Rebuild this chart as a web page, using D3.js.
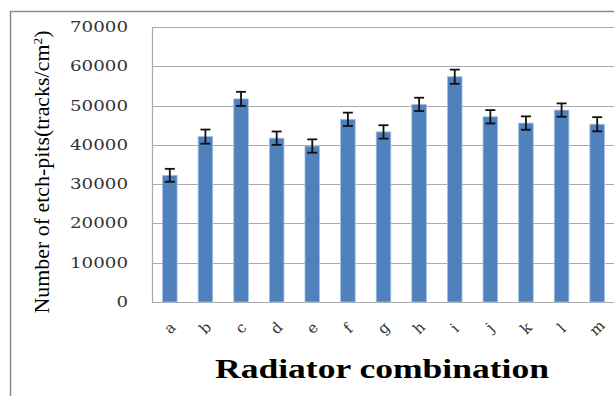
<!DOCTYPE html>
<html>
<head>
<meta charset="utf-8">
<script src="https://cdn.jsdelivr.net/npm/d3@7"></script>
<style>
  body { margin: 0; background: #fff; }
  svg { display: block; }
  .xlab { transform-box: fill-box; transform-origin: center; transform: rotate(-45deg); }
</style>
</head>
<body>
<div id="chart"></div>
<script>
// Chart data
const categories = ["a", "b", "c", "d", "e", "f", "g", "h", "i", "j", "k", "l", "m"];
const etchPits = [32250, 42100, 51700, 41700, 39700, 46500, 43300, 50300, 57350, 47150, 45550, 48850, 45250];
const errors = [1650, 1800, 1800, 1700, 1700, 1700, 1700, 1700, 1800, 1700, 1700, 1700, 1800];
const yTicks = [0, 10000, 20000, 30000, 40000, 50000, 60000, 70000];

const width = 614;
const height = 396;
const margin = { top: 27, right: -1, bottom: 94, left: 152 };

const svg = d3.select("#chart")
    .append("svg")
    .attr("width", width)
    .attr("height", height);

// Outer chart border (runs off the right and bottom of the picture)
svg.append("rect")
    .attr("x", 10.5)
    .attr("y", 11.5)
    .attr("width", width + 20)
    .attr("height", height + 20)
    .attr("fill", "none")
    .attr("stroke", "#8c8c8c")
    .attr("stroke-width", 1.5);

const x = d3.scaleBand()
    .domain(categories)
    .range([margin.left, width - margin.right])
    .paddingInner(0.59)
    .paddingOuter(0.295);

const y = d3.scaleLinear()
    .domain([0, 70000])
    .range([height - margin.bottom, margin.top]);

const serif = "'DejaVu Serif', 'Liberation Serif', serif";
const times = "'Liberation Serif', 'DejaVu Serif', serif";

// Gridlines
svg.append("g")
    .selectAll("line")
    .data(yTicks)
    .enter().append("line")
    .attr("x1", margin.left)
    .attr("x2", width)
    .attr("y1", d => Math.round(y(d)) + 0.5)
    .attr("y2", d => Math.round(y(d)) + 0.5)
    .attr("stroke", "#aaaaaa")
    .attr("stroke-width", 1.2);

// Left axis line
svg.append("line")
    .attr("x1", margin.left + 0.5)
    .attr("x2", margin.left + 0.5)
    .attr("y1", y(70000))
    .attr("y2", y(0))
    .attr("stroke", "#aaaaaa")
    .attr("stroke-width", 1.2);

// Y tick labels, stretched like the original
svg.append("g")
    .selectAll("text")
    .data(yTicks)
    .enter().append("text")
    .attr("x", 128)
    .attr("y", d => y(d) + 5)
    .attr("text-anchor", "end")
    .attr("font-family", serif)
    .attr("font-size", 14)
    .attr("fill", "#333")
    .attr("textLength", d => String(d).length * 11.6)
    .attr("lengthAdjust", "spacingAndGlyphs")
    .text(d => d);

// Bars
svg.append("g")
    .selectAll("rect")
    .data(etchPits)
    .enter().append("rect")
    .attr("x", (d, i) => x(categories[i]))
    .attr("y", d => y(d))
    .attr("width", x.bandwidth())
    .attr("height", d => y(0) - y(d))
    .attr("fill", "#4f81bd")
    .attr("stroke", "#a9c1e0")
    .attr("stroke-width", 0.8);

// Error bars
const err = svg.append("g")
    .selectAll("g")
    .data(etchPits)
    .enter().append("g")
    .attr("stroke", "#111")
    .attr("stroke-width", 1.8);

err.append("line")
    .attr("x1", (d, i) => x(categories[i]) + x.bandwidth() / 2)
    .attr("x2", (d, i) => x(categories[i]) + x.bandwidth() / 2)
    .attr("y1", (d, i) => y(d + errors[i]))
    .attr("y2", (d, i) => y(d - errors[i]));

err.append("line")
    .attr("x1", (d, i) => x(categories[i]) + x.bandwidth() / 2 - 5)
    .attr("x2", (d, i) => x(categories[i]) + x.bandwidth() / 2 + 5)
    .attr("y1", (d, i) => y(d + errors[i]))
    .attr("y2", (d, i) => y(d + errors[i]));

err.append("line")
    .attr("x1", (d, i) => x(categories[i]) + x.bandwidth() / 2 - 5)
    .attr("x2", (d, i) => x(categories[i]) + x.bandwidth() / 2 + 5)
    .attr("y1", (d, i) => y(d - errors[i]))
    .attr("y2", (d, i) => y(d - errors[i]));

// X tick labels, turned 45 degrees with CSS
svg.append("g")
    .selectAll("text")
    .data(categories)
    .enter().append("text")
    .attr("class", "xlab")
    .attr("x", d => x(d) + x.bandwidth() / 2)
    .attr("y", 333)
    .attr("text-anchor", "middle")
    .attr("font-family", serif)
    .attr("font-size", 15)
    .attr("fill", "#333")
    .text(d => d);

// Axis titles
svg.append("text")
    .attr("x", 382)
    .attr("y", 378)
    .attr("text-anchor", "middle")
    .attr("font-family", times)
    .attr("font-size", 27)
    .attr("font-weight", "bold")
    .attr("fill", "#000")
    .attr("textLength", 334)
    .attr("lengthAdjust", "spacingAndGlyphs")
    .text("Radiator combination");

const yTitle = svg.append("text")
    .attr("transform", "translate(49,172) rotate(-90)")
    .attr("text-anchor", "middle")
    .attr("font-family", times)
    .attr("font-size", 21)
    .attr("fill", "#000")
    .attr("textLength", 283)
    .attr("lengthAdjust", "spacingAndGlyphs");

yTitle.append("tspan").text("Number of etch-pits(tracks/cm");
yTitle.append("tspan").attr("baseline-shift", "super").attr("font-size", 13).text("2");
yTitle.append("tspan").text(")");
</script>
</body>
</html>
